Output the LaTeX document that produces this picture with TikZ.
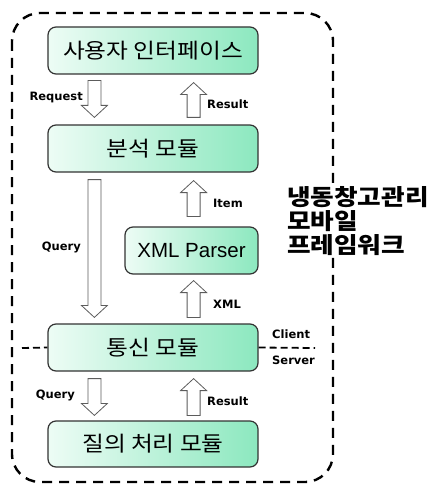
\documentclass[tikz,border=0pt]{standalone}
\usepackage{fontspec}
\setmainfont{Liberation Sans}
\newfontfamily\kr[FakeStretch=1.13]{Noto Sans CJK KR}
\newfontfamily\krhead[FakeStretch=1.14]{Noto Sans CJK KR}
\newfontfamily\lbl{DejaVu Sans}
\usetikzlibrary{calc}
\definecolor{boxlight}{HTML}{EDFCF5}
\definecolor{boxdark}{HTML}{8CE8BF}
\definecolor{edge}{HTML}{333333}
\tikzset{
	modbox/.style={draw=edge, line width=1.2pt, rounded corners=8pt,
		left color=boxlight, right color=boxdark, inner sep=0pt,
		minimum width=210pt, minimum height=47pt, font=\kr\fontsize{21}{24}\selectfont},
	hollow/.style={draw=edge!80, fill=white, line width=0.8pt},
	tag/.style={font=\lbl\bfseries\fontsize{11.5}{13}\selectfont, inner sep=1pt},
	frame/.style={draw=black, line width=2.4pt, dash pattern=on 10pt off 7pt, rounded corners=28pt},
	csline/.style={draw=black, line width=1.8pt, dash pattern=on 7pt off 4pt}
}
\newcommand\downblock[2]{%
	\draw[hollow] let \p1=(#1), \p2=(#2) in
		(\x1-6.5pt,\y1) -- (\x1-6.5pt,\y2+12pt) -- (\x1-13pt,\y2+12pt) -- (\x1,\y2)
		-- (\x1+13pt,\y2+12pt) -- (\x1+6.5pt,\y2+12pt) -- (\x1+6.5pt,\y1) -- cycle;}
\newcommand\upblock[2]{%
	\draw[hollow] let \p1=(#1), \p2=(#2) in
		(\x1-6.5pt,\y1) -- (\x1-6.5pt,\y2-12pt) -- (\x1-13pt,\y2-12pt) -- (\x1,\y2)
		-- (\x1+13pt,\y2-12pt) -- (\x1+6.5pt,\y2-12pt) -- (\x1+6.5pt,\y1) -- cycle;}
\begin{document}
\begin{tikzpicture}[x=1pt,y=-1pt]
\useasboundingbox (0,0) rectangle (433,484);
\draw[frame] (12,13) rectangle (333,482);
\path
	(153,50.5) node[modbox] (ui) {사용자 인터페이스}
	(153,148.5) node[modbox] (analysis) {분석 모듈}
	(191.5,250.5) node[modbox, minimum width=133pt, font=\fontsize{20.5}{24}\selectfont] (parser) {XML Parser}
	(153,347.5) node[modbox] (comm) {통신 모듈}
	(153,444) node[modbox, minimum height=46pt] (qp) {질의 처리 모듈};
% client / server split
\coordinate (cs left) at (22,348);
\coordinate (cs right) at (315,348);
\draw[csline] (cs left) -- (comm.west);
\draw[csline] (comm.east) -- (cs right);
% block arrows
\downblock{$(ui.south west)+(47,6)$}{$(analysis.north west)+(47,-7)$}
\upblock{$(analysis.north east)+(-65,-7)$}{$(ui.south east)+(-65,8)$}
\downblock{$(analysis.south west)+(47,7)$}{$(comm.north west)+(47,-6)$}
\upblock{$(parser.north east)+(-65,-10)$}{$(analysis.south east)+(-65,8)$}
\upblock{$(comm.north east)+(-65,-6)$}{$(parser.south east)+(-65,6)$}
\downblock{$(comm.south west)+(47,7)$}{$(qp.north west)+(47,-5)$}
\upblock{$(qp.north east)+(-65,-5)$}{$(comm.south east)+(-65,7)$}
\path
	(84,98) node[tag, anchor=east] (req) {Request}
	(206,104) node[tag, anchor=west] (res1) {Result}
	(82,247) node[tag, anchor=east] (q1) {Query}
	(212,203) node[tag, anchor=west] (item) {Item}
	(212,304) node[tag, anchor=west] (xml) {XML}
	(76,395) node[tag, anchor=east] (q2) {Query}
	(206,401) node[tag, anchor=west] (res2) {Result}
	(271,334) node[tag, anchor=west] (client) {Client}
	(271,360) node[tag, anchor=west] (server) {Server};
\node[anchor=west, align=left, fill=white, inner sep=1pt,
	font=\krhead\bfseries\fontsize{22.5}{24}\selectfont] (title) at (286,221) {냉동창고관리\\모바일\\프레임워크};
\end{tikzpicture}
\end{document}
